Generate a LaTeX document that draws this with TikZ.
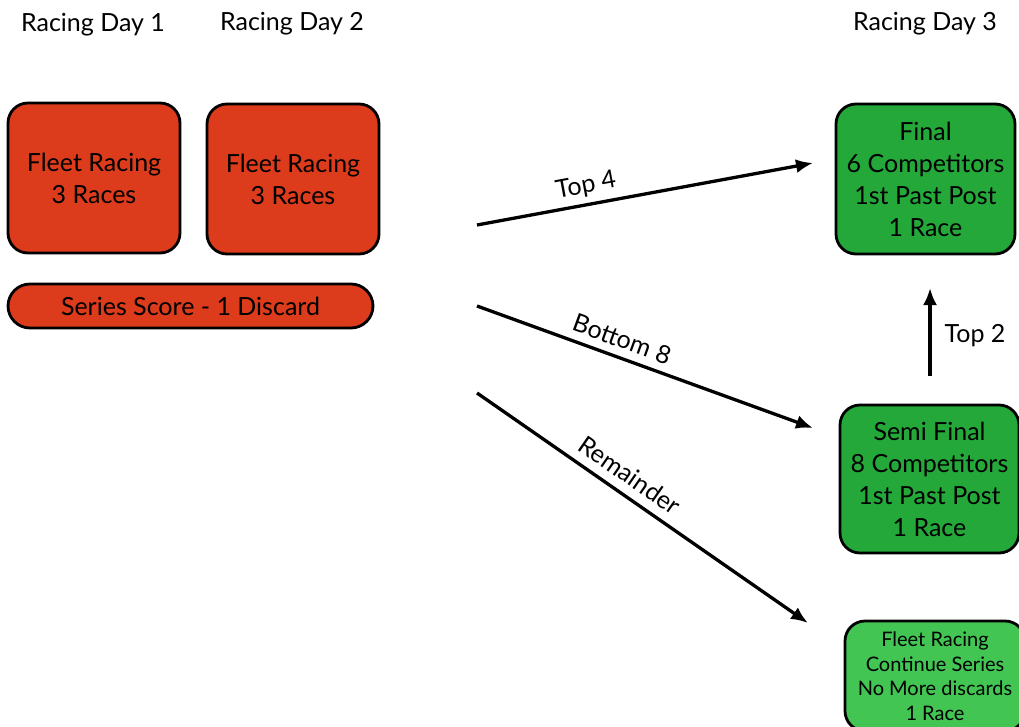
\documentclass[tikz,border=0pt]{standalone}
\usepackage{fontspec}
\setmainfont{Lato}
\usetikzlibrary{arrows.meta}
\definecolor{redbox}{HTML}{DC3B1C}
\definecolor{greenbox}{HTML}{25A83A}
\definecolor{lightgreen}{HTML}{42C553}
\begin{document}
\begin{tikzpicture}[x=1pt,y=-1pt,
  box/.style={draw=black,line width=2.8pt,rounded corners=20pt,align=center,font=\fontsize{25}{32}\selectfont,inner sep=0pt},
  conn/.style={line width=3.3pt,-{Latex[length=17pt,width=14pt]}},
  lbl/.style={font=\fontsize{25}{30}\selectfont}]
\useasboundingbox (0,0) rectangle (1019,727);
\node[box,fill=redbox,minimum width=172pt,minimum height=150pt] (d1) at (94,178) {Fleet Racing\\3 Races};
\node[box,fill=redbox,minimum width=172pt,minimum height=150pt] (d2) at (293,179) {Fleet Racing\\3 Races};
\node[box,fill=redbox,rounded corners=22pt,minimum width=365pt,minimum height=44pt] (ss) at (190.5,306) {Series Score - 1 Discard};
\node[box,fill=greenbox,minimum width=179pt,minimum height=150pt] (fin) at (925.5,179) {Final\\6 Competitors\\1st Past Post\\1 Race};
\node[box,fill=greenbox,minimum width=179pt,minimum height=148pt] (semi) at (929.5,479) {Semi Final\\8 Competitors\\1st Past Post\\1 Race};
\node[box,fill=lightgreen,font=\fontsize{20}{24.5}\selectfont,minimum width=180pt,minimum height=110pt] (fl) at (935,676) {Fleet Racing\\Continue Series\\No More discards\\1 Race};
\node[lbl] (h1) at (93,25) {Racing Day 1};
\node[lbl] (h2) at (292,24) {Racing Day 2};
\node[lbl] (h3) at (925,24) {Racing Day 3};
\coordinate (s1) at (477,225);
\coordinate (e1) at (813,163);
\coordinate (s2) at (477,306);
\coordinate (e2) at (813,428);
\coordinate (s3) at (477,393);
\coordinate (e3) at (808,623);
\coordinate (s4) at (930,376);
\coordinate (e4) at (930,288);
\draw[conn] (s1) -- (e1);
\draw[conn] (s2) -- (e2);
\draw[conn] (s3) -- (e3);
\draw[conn] (s4) -- (e4);
\node[lbl,rotate=10.5] (l1) at (586,186) {Top 4};
\node[lbl,rotate=-20] (l2) at (622,339) {Bottom 8};
\node[lbl,rotate=-34.8] (l3) at (630,475) {Remainder};
\node[lbl] (l4) at (975,336) {Top 2};
\end{tikzpicture}
\end{document}
